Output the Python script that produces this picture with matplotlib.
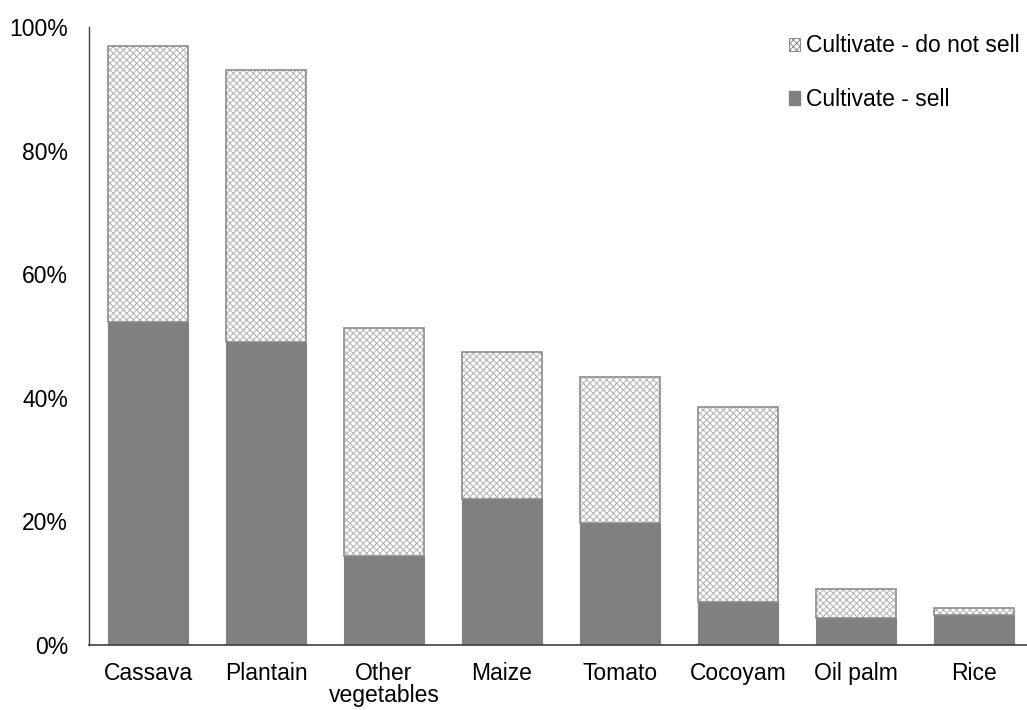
import numpy as np
import matplotlib
matplotlib.use("Agg")
from matplotlib import pyplot as plt
from matplotlib.patches import Patch
from matplotlib.ticker import PercentFormatter

crops = ["Cassava", "Plantain", "Other\nvegetables", "Maize", "Tomato", "Cocoyam", "Oil palm", "Rice"]
total = [96.9, 93.0, 51.3, 47.4, 43.4, 38.5, 9.1, 6.0]
sell = [52.3, 49.0, 14.4, 23.6, 19.7, 7.0, 4.4, 4.9]
no_sell = [t - s for t, s in zip(total, sell)]

plt.rcParams['font.family'] = ['Liberation Sans', 'DejaVu Sans']
plt.rcParams['hatch.linewidth'] = 0.7

fig = plt.figure(figsize=(10.27, 7.10), dpi=100)
ax = fig.add_axes([89 / 1027, 65 / 710, 944 / 1027, 618 / 710])

x = np.arange(len(crops))
w = 0.68

# selling part
ax.bar(x, sell, w, color='#808080', edgecolor='#808080', linewidth=0.8, zorder=2)
# not selling part: hatch then outline
ax.bar(x, no_sell, w, bottom=sell, color='white', edgecolor='#b0b0b0',
       hatch='xxxxx', linewidth=0, zorder=2)
ax.bar(x, no_sell, w, bottom=sell, fill=False, edgecolor='#8c8c8c',
       linewidth=1.2, zorder=3)

ax.set_xlim(-0.5, 7.5)
ax.set_ylim(0, 100)
ax.set_yticks([0, 20, 40, 60, 80, 100])
ax.yaxis.set_major_formatter(PercentFormatter(decimals=0))
ax.set_xticks(x)
ax.set_xticklabels(crops, linespacing=0.98)
ax.tick_params(axis='both', length=0, labelsize=16.5)
ax.tick_params(axis='x', pad=12)
ax.tick_params(axis='y', pad=15)

for s in ['top', 'right']:
    ax.spines[s].set_visible(False)
ax.spines['left'].set_color('#404040')
ax.spines['bottom'].set_color('#404040')
ax.spines['left'].set_linewidth(1.0)
ax.spines['bottom'].set_linewidth(1.2)

handles = [Patch(facecolor='white', edgecolor='#8c8c8c', hatch='xxxxx', linewidth=0.8),
           Patch(facecolor='#808080', edgecolor='#808080')]
fig.legend(handles, ["Cultivate - do not sell", "Cultivate - sell"],
           loc='upper right', bbox_to_anchor=(1.004, 0.968), frameon=False,
           fontsize=16.5, handlelength=0.5, handleheight=0.5, handletextpad=0.25,
           labelspacing=1.35, borderaxespad=0.1)

plt.savefig("out.png", dpi=100)
